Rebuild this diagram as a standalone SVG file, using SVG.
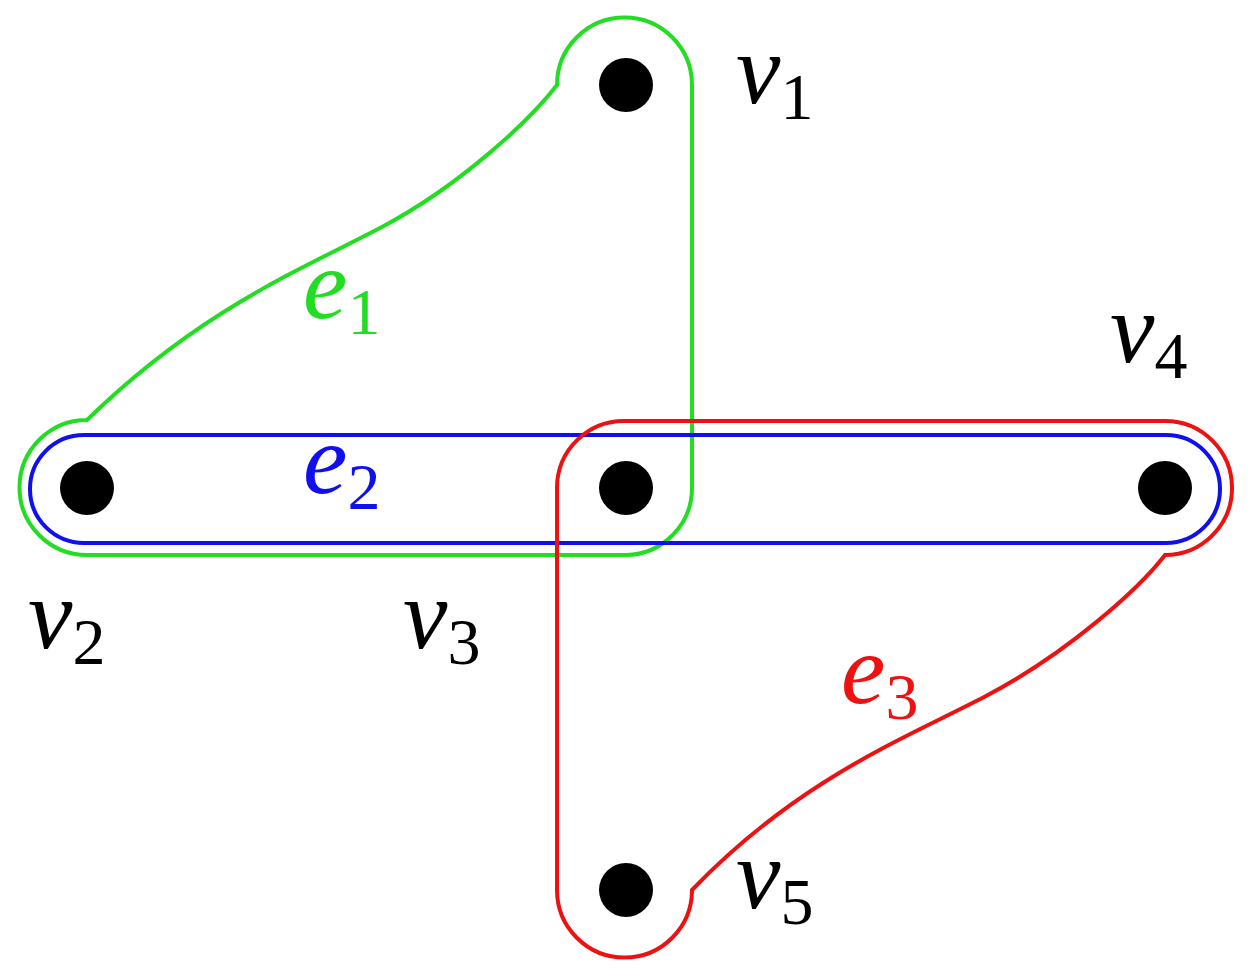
<svg xmlns="http://www.w3.org/2000/svg" width="1250" height="979" viewBox="0 0 1250 979">
<style>
.n{fill:#000}
.h{fill:none;stroke-width:4}
.l{font-family:"Liberation Serif",serif;font-size:100px}
.l tspan.v{font-style:italic}
.l tspan.s{font-size:66px}
</style>
<rect width="1250" height="979" fill="#fff"/>
<g id="edges">
<path id="e1" class="h" stroke="#22dd22" d="M87 420 C200 310 300 270 380 228 C460 186 530 120 557 85 A67.5 67.5 0 0 1 692 85 L692 488 A67 67 0 0 1 626 555 L87 555 A67.5 67.5 0 0 1 87 420 Z"/>
<rect id="e2" class="h" stroke="#1010ee" x="30" y="435" width="1190" height="108" rx="54"/>
<path id="e3" class="h" stroke="#ee1111" d="M1165 555 C1138 590 1066 654 986 696 C906 738 800 778 692 890 A67.5 67.5 0 0 1 557 890 L557 488 A67 67 0 0 1 626 421 L1165 421 A67 67 0 0 1 1165 555 Z"/>
</g>
<g id="v1"><circle class="n" cx="626" cy="85" r="27"/><text class="l" x="736" y="103"><tspan class="v">v</tspan><tspan class="s" dy="16">1</tspan></text></g>
<g id="v2"><circle class="n" cx="87" cy="488" r="27"/><text class="l" x="28" y="648"><tspan class="v">v</tspan><tspan class="s" dy="16">2</tspan></text></g>
<g id="v3"><circle class="n" cx="626" cy="488" r="27"/><text class="l" x="403" y="648"><tspan class="v">v</tspan><tspan class="s" dy="16">3</tspan></text></g>
<g id="v4"><circle class="n" cx="1165" cy="488" r="27"/><text class="l" x="1110" y="362"><tspan class="v">v</tspan><tspan class="s" dy="16">4</tspan></text></g>
<g id="v5"><circle class="n" cx="626" cy="890" r="27"/><text class="l" x="736" y="908"><tspan class="v">v</tspan><tspan class="s" dy="16">5</tspan></text></g>
<g id="labels">
<text class="l" x="303" y="318" fill="#22dd22"><tspan class="v">e</tspan><tspan class="s" dy="16">1</tspan></text>
<text class="l" x="303" y="493" fill="#1010ee"><tspan class="v">e</tspan><tspan class="s" dy="16">2</tspan></text>
<text class="l" x="841" y="703" fill="#ee1111"><tspan class="v">e</tspan><tspan class="s" dy="16">3</tspan></text>
</g>
</svg>
